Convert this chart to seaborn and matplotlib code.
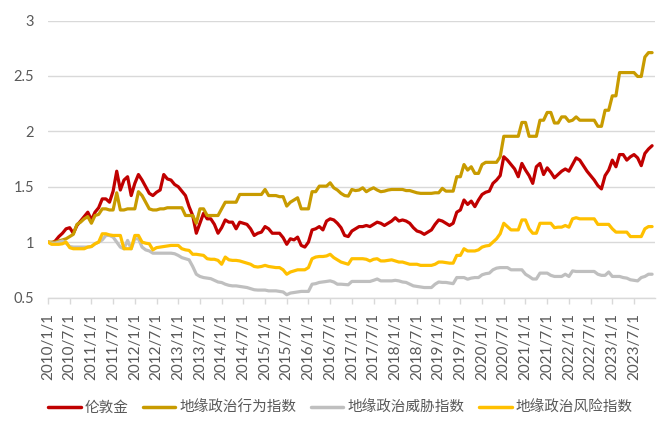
import pandas as pd
import seaborn as sns
import matplotlib.pyplot as plt
from matplotlib.ticker import FuncFormatter

# monthly, 2010/1 .. 2023/12
meses = pd.date_range('2010-01-01', periods=168, freq='MS')

ouro = [1.00, 0.99, 1.01, 1.05, 1.08, 1.12, 1.13, 1.08, 1.15, 1.19, 1.23, 1.27,
        1.20, 1.27, 1.31, 1.39, 1.39, 1.36, 1.46, 1.64, 1.47, 1.56, 1.59, 1.42,
        1.53, 1.61, 1.56, 1.50, 1.44, 1.42, 1.45, 1.47, 1.61, 1.57, 1.56, 1.52,
        1.50, 1.46, 1.42, 1.32, 1.24, 1.08, 1.17, 1.26, 1.21, 1.21, 1.16, 1.08,
        1.13, 1.20, 1.18, 1.18, 1.12, 1.18, 1.17, 1.16, 1.12, 1.06, 1.08, 1.09,
        1.14, 1.12, 1.08, 1.08, 1.08, 1.04, 0.98, 1.03, 1.02, 1.045, 0.97, 0.955,
        1.00, 1.11, 1.12, 1.14, 1.11, 1.19, 1.21, 1.20, 1.17, 1.13, 1.06, 1.05,
        1.10, 1.12, 1.14, 1.14, 1.15, 1.14, 1.16, 1.18, 1.17, 1.15, 1.17, 1.19,
        1.22, 1.19, 1.20, 1.19, 1.17, 1.13, 1.10, 1.09, 1.07, 1.09, 1.11, 1.16,
        1.20, 1.19, 1.17, 1.15, 1.17, 1.27, 1.29, 1.38, 1.34, 1.37, 1.32, 1.38,
        1.43, 1.45, 1.46, 1.53, 1.56, 1.60, 1.77, 1.74, 1.70, 1.66, 1.59, 1.71,
        1.65, 1.60, 1.53, 1.68, 1.71, 1.61, 1.67, 1.63, 1.58, 1.61, 1.64, 1.66,
        1.64, 1.70, 1.76, 1.74, 1.69, 1.64, 1.60, 1.56, 1.51, 1.48, 1.60, 1.65,
        1.74, 1.68, 1.79, 1.79, 1.74, 1.77, 1.79, 1.76, 1.69, 1.80, 1.84, 1.87]

acao = [1.00, 1.00, 1.00, 1.01, 1.02, 1.03, 1.05, 1.07, 1.16, 1.18, 1.21, 1.23,
        1.17, 1.24, 1.25, 1.30, 1.30, 1.29, 1.29, 1.445, 1.29, 1.29, 1.30, 1.30,
        1.30, 1.455, 1.42, 1.36, 1.30, 1.29, 1.29, 1.30, 1.30, 1.31, 1.31, 1.31,
        1.31, 1.31, 1.24, 1.24, 1.24, 1.17, 1.30, 1.30, 1.24, 1.24, 1.24, 1.24,
        1.30, 1.36, 1.36, 1.36, 1.36, 1.43, 1.43, 1.43, 1.43, 1.43, 1.43, 1.43,
        1.475, 1.42, 1.42, 1.42, 1.41, 1.41, 1.325, 1.36, 1.38, 1.40, 1.30, 1.30,
        1.30, 1.455, 1.455, 1.505, 1.505, 1.505, 1.535, 1.49, 1.47, 1.44, 1.42, 1.415,
        1.475, 1.465, 1.47, 1.49, 1.455, 1.475, 1.49, 1.47, 1.455, 1.46, 1.47, 1.475,
        1.475, 1.475, 1.475, 1.465, 1.465, 1.455, 1.445, 1.44, 1.44, 1.44, 1.44, 1.445,
        1.445, 1.485, 1.46, 1.46, 1.46, 1.59, 1.59, 1.70, 1.65, 1.68, 1.62, 1.62,
        1.70, 1.72, 1.72, 1.72, 1.72, 1.77, 1.955, 1.955, 1.955, 1.955, 1.955, 2.08,
        2.08, 1.955, 1.955, 1.955, 2.10, 2.10, 2.17, 2.17, 2.075, 2.075, 2.13, 2.13,
        2.09, 2.10, 2.13, 2.10, 2.10, 2.10, 2.10, 2.10, 2.045, 2.045, 2.19, 2.19,
        2.32, 2.32, 2.53, 2.53, 2.53, 2.53, 2.53, 2.495, 2.495, 2.67, 2.71, 2.71]

ameaca = [1.00, 0.99, 0.99, 1.00, 1.01, 0.99, 0.96, 0.955, 0.955, 0.955, 0.955, 0.955,
          0.96, 0.985, 1.00, 1.02, 1.06, 1.06, 1.045, 1.00, 0.955, 0.94, 1.015, 0.94,
          1.03, 1.03, 0.955, 0.93, 0.92, 0.90, 0.90, 0.90, 0.90, 0.90, 0.90, 0.895,
          0.88, 0.86, 0.85, 0.84, 0.78, 0.71, 0.69, 0.68, 0.675, 0.67, 0.655, 0.64,
          0.635, 0.62, 0.61, 0.605, 0.605, 0.60, 0.595, 0.59, 0.58, 0.57, 0.567, 0.567,
          0.567, 0.56, 0.56, 0.56, 0.555, 0.55, 0.525, 0.54, 0.545, 0.55, 0.555, 0.555,
          0.555, 0.62, 0.625, 0.636, 0.64, 0.645, 0.65, 0.64, 0.62, 0.62, 0.617, 0.615,
          0.645, 0.645, 0.645, 0.645, 0.645, 0.645, 0.655, 0.667, 0.65, 0.65, 0.65, 0.65,
          0.655, 0.65, 0.64, 0.636, 0.62, 0.605, 0.60, 0.595, 0.59, 0.59, 0.59, 0.62,
          0.64, 0.636, 0.636, 0.63, 0.625, 0.68, 0.68, 0.68, 0.665, 0.675, 0.68, 0.68,
          0.705, 0.715, 0.72, 0.75, 0.765, 0.77, 0.77, 0.77, 0.75, 0.75, 0.75, 0.75,
          0.71, 0.69, 0.667, 0.667, 0.72, 0.72, 0.72, 0.70, 0.69, 0.69, 0.69, 0.71,
          0.69, 0.74, 0.735, 0.735, 0.735, 0.735, 0.735, 0.735, 0.71, 0.70, 0.70, 0.73,
          0.69, 0.69, 0.69, 0.68, 0.675, 0.66, 0.655, 0.65, 0.68, 0.69, 0.71, 0.71]

risco = [1.00, 0.98, 0.98, 0.98, 0.985, 1.00, 0.95, 0.94, 0.94, 0.94, 0.94, 0.955,
         0.96, 0.985, 1.00, 1.075, 1.075, 1.065, 1.06, 1.06, 1.06, 0.94, 0.94, 0.94,
         1.06, 1.06, 1.00, 0.99, 0.985, 0.93, 0.95, 0.955, 0.96, 0.965, 0.97, 0.97,
         0.97, 0.94, 0.93, 0.925, 0.89, 0.89, 0.885, 0.88, 0.85, 0.845, 0.845, 0.835,
         0.80, 0.865, 0.84, 0.835, 0.835, 0.83, 0.82, 0.81, 0.80, 0.78, 0.775, 0.78,
         0.79, 0.78, 0.775, 0.77, 0.77, 0.75, 0.71, 0.73, 0.74, 0.75, 0.75, 0.75,
         0.77, 0.85, 0.865, 0.87, 0.87, 0.875, 0.89, 0.86, 0.84, 0.82, 0.81, 0.80,
         0.85, 0.85, 0.85, 0.85, 0.845, 0.83, 0.845, 0.85, 0.83, 0.83, 0.835, 0.84,
         0.83, 0.82, 0.82, 0.81, 0.80, 0.80, 0.80, 0.79, 0.79, 0.79, 0.79, 0.80,
         0.82, 0.82, 0.815, 0.81, 0.81, 0.88, 0.88, 0.94, 0.92, 0.92, 0.92, 0.93,
         0.955, 0.965, 0.97, 1.00, 1.03, 1.075, 1.17, 1.14, 1.11, 1.11, 1.11, 1.20,
         1.20, 1.12, 1.08, 1.08, 1.17, 1.17, 1.17, 1.17, 1.13, 1.135, 1.135, 1.15,
         1.135, 1.21, 1.22, 1.21, 1.21, 1.21, 1.21, 1.21, 1.16, 1.16, 1.16, 1.16,
         1.12, 1.09, 1.09, 1.09, 1.09, 1.05, 1.05, 1.05, 1.05, 1.12, 1.14, 1.14]

nomes = ['伦敦金', '地缘政治行为指数', '地缘政治威胁指数', '地缘政治风险指数']
cores = ['#C00000', '#C89B00', '#BFBFBF', '#FFC000']

rotulos = [f'{d.year}/{d.month}/{d.day}' for d in meses]
pos = list(range(len(meses)))

dados = pd.DataFrame({
    'mes': pos * 4,
    'valor': ouro + acao + ameaca + risco,
    'serie': sum([[n] * len(meses) for n in nomes], []),
})

sns.set_theme(style="white")
plt.rcParams['font.family'] = ['Lato', 'Noto Sans CJK SC', 'DejaVu Sans']

fig = plt.figure(figsize=(6.68, 4.21), dpi=100)
ax = fig.add_axes([48 / 668, (421 - 297.5) / 421, (655 - 48) / 668, (297.5 - 20.5) / 421])

sns.lineplot(data=dados, x='mes', y='valor', hue='serie', hue_order=nomes,
             palette=dict(zip(nomes, cores)), linewidth=2.3, ax=ax, legend=False)

ax.set_xlim(0, 167.8)
ax.set_ylim(0.5, 3)
ax.set_yticks([0.5, 1, 1.5, 2, 2.5, 3])
ax.yaxis.set_major_formatter(FuncFormatter(lambda v, p: f'{v:g}'))
ax.set_xticks(pos[::6])
ax.set_xticklabels(rotulos[::6], rotation=90)
ax.set_xlabel('')
ax.set_ylabel('')

ax.grid(axis='y', color='#D9D9D9', linewidth=1)
ax.set_axisbelow(True)
for lado in ['left', 'right', 'top']:
    ax.spines[lado].set_visible(False)
ax.spines['bottom'].set_color('#D9D9D9')
ax.spines['bottom'].set_linewidth(1)
ax.tick_params(axis='x', length=4, width=1, color='#D9D9D9', pad=7,
               labelsize=11, labelcolor='#595959', bottom=True)
ax.tick_params(axis='y', length=0, pad=10, labelsize=10.5, labelcolor='#595959')

handles = [plt.Line2D([], [], color=c, linewidth=2.5) for c in cores]
fig.legend(handles, nomes, loc='center', bbox_to_anchor=(0.51, 0.031), ncol=4,
           frameon=False, fontsize=10.5, handlelength=2.2, handletextpad=0.3,
           columnspacing=1.0, labelcolor='#595959')

plt.savefig('out.png', dpi=100)
plt.close()
